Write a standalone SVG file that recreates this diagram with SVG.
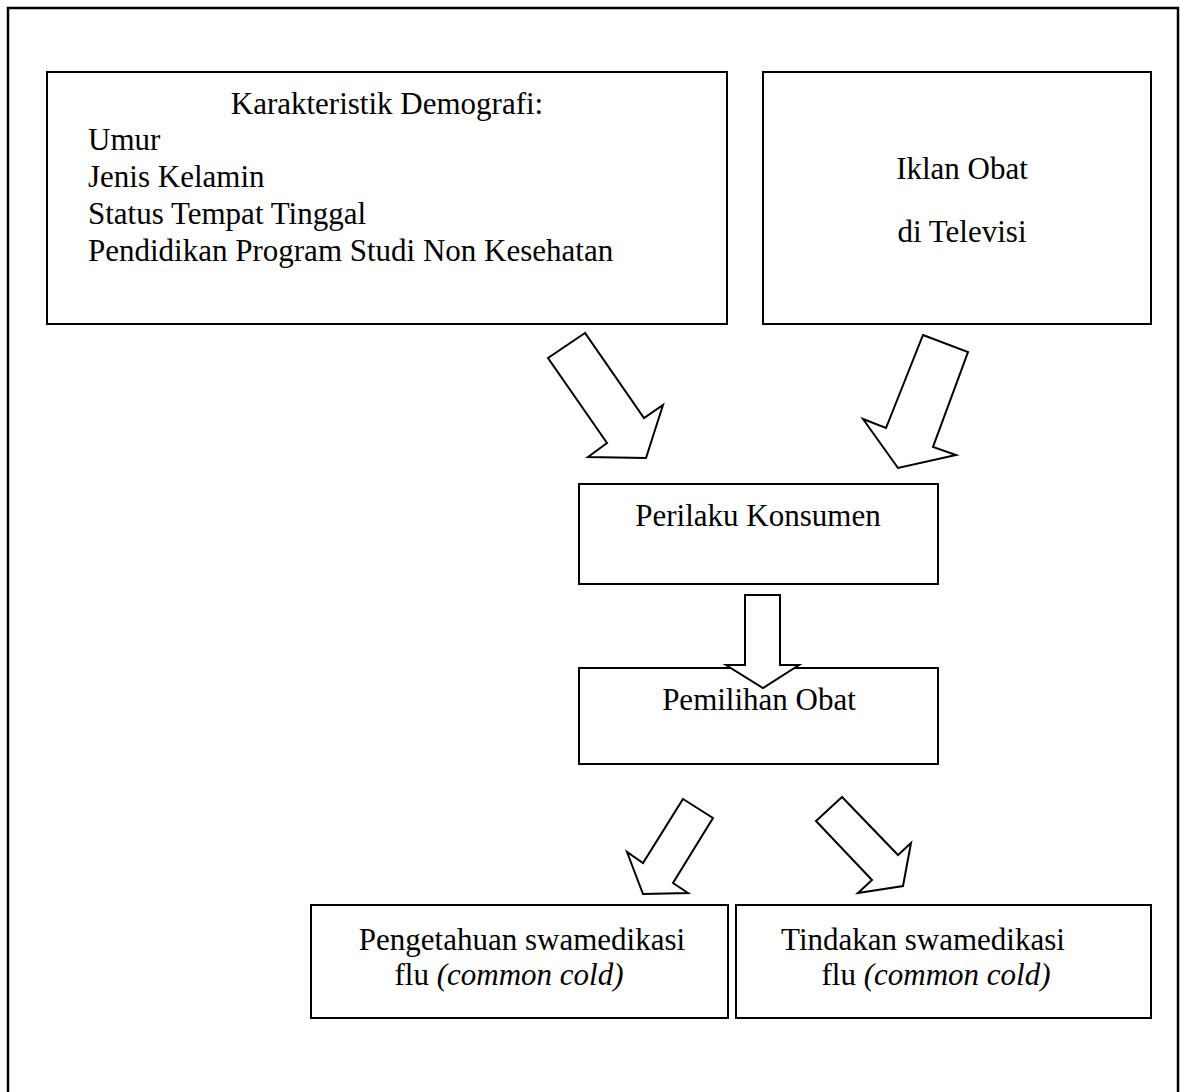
<svg xmlns="http://www.w3.org/2000/svg" width="1180" height="1092" viewBox="0 0 1180 1092">
<style>
.box{fill:#fff;stroke:#000;stroke-width:2}
.arr{fill:#fff;stroke:#000;stroke-width:2;stroke-linejoin:miter}
text{font-family:"Liberation Serif","Times New Roman",serif;font-size:31px;fill:#000}
.c{text-anchor:middle}
.i{font-style:italic}
</style>
<rect width="1180" height="1092" fill="#fff"/>
<rect id="frame" x="8" y="8" width="1170" height="1100" fill="none" stroke="#000" stroke-width="2.5"/>
<g id="demografi">
<rect class="box" x="47" y="72" width="680" height="252"/>
<text class="c" x="387" y="114">Karakteristik Demografi:</text>
<text x="88" y="150">Umur</text>
<text x="88" y="187">Jenis Kelamin</text>
<text x="88" y="224">Status Tempat Tinggal</text>
<text x="88" y="261">Pendidikan Program Studi Non Kesehatan</text>
</g>
<g id="iklan">
<rect class="box" x="763" y="72" width="388" height="252"/>
<text class="c" x="962" y="179">Iklan Obat</text>
<text class="c" x="962" y="242">di Televisi</text>
</g>
<g id="perilaku">
<rect class="box" x="579" y="484" width="359" height="100"/>
<text class="c" x="758" y="526">Perilaku Konsumen</text>
</g>
<g id="pemilihan">
<rect class="box" x="579" y="668" width="359" height="96"/>
<text class="c" x="759" y="710">Pemilihan Obat</text>
</g>
<g id="pengetahuan">
<rect class="box" x="311" y="905" width="417" height="113"/>
<text class="c" x="522" y="950">Pengetahuan swamedikasi</text>
<text class="c" x="509" y="985">flu <tspan class="i">(common cold)</tspan></text>
</g>
<g id="tindakan">
<rect class="box" x="736" y="905" width="415" height="113"/>
<text class="c" x="923" y="950">Tindakan swamedikasi</text>
<text class="c" x="936" y="985">flu <tspan class="i">(common cold)</tspan></text>
</g>
<g id="connectors">
<polygon class="arr" points="585,333 548,358 607,443 588,457 646,458 663,405 644,418"/>
<polygon class="arr" points="923,335 968,352 933,447 956,455 898,468 863,419 886,428"/>
<polygon class="arr" points="745,595 780,595 780,665 799,665 763,688 726,665 745,665"/>
<polygon class="arr" points="683,799 713,818 673,883 688,893 643,894 627,852 643,863"/>
<polygon class="arr" points="842,797 816,821 872,880 858,893 903,886 911,843 898,855"/>
</g>
</svg>
